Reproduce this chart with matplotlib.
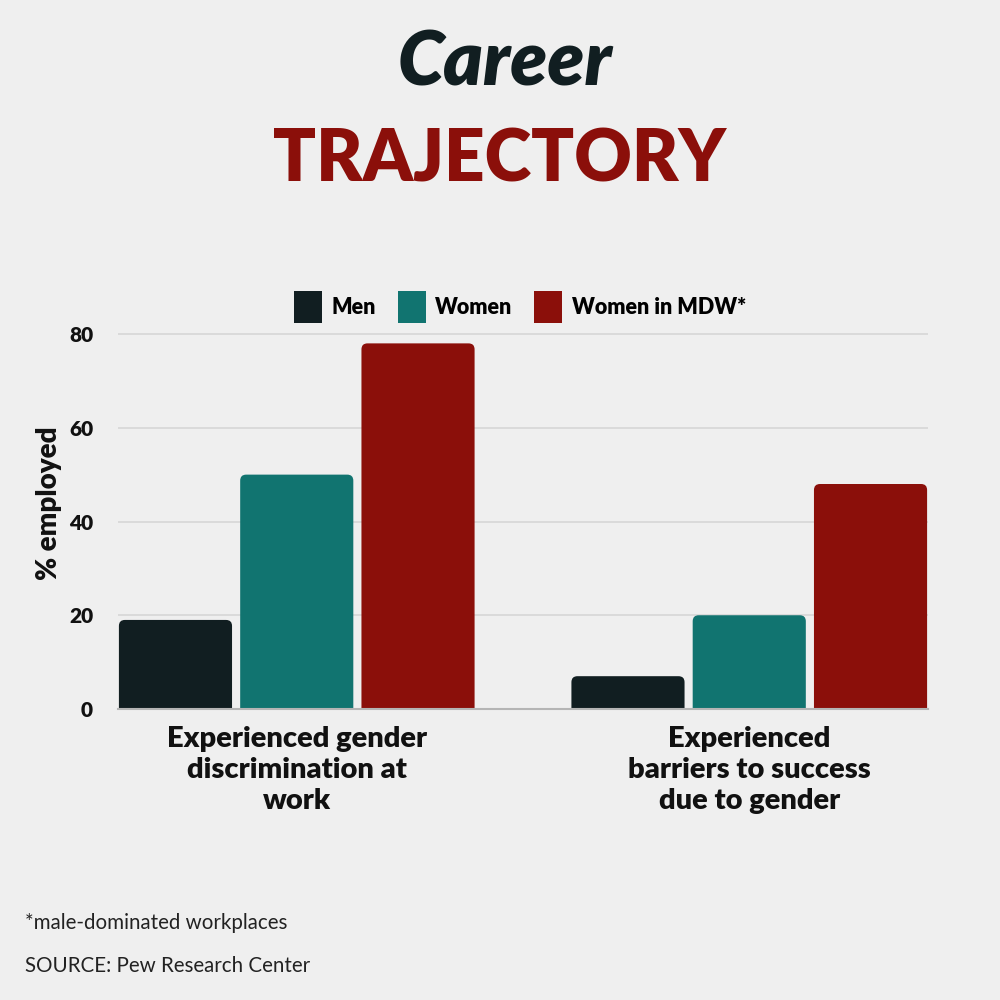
import matplotlib
matplotlib.use("Agg")
import matplotlib.pyplot as plt
from matplotlib.patches import FancyBboxPatch, Patch
import numpy as np

# data
categories = ["Experienced gender\ndiscrimination at\nwork",
              "Experienced\nbarriers to success\ndue to gender"]
series_names = ["Men", "Women", "Women in MDW*"]
men = [19, 7]
women = [50, 20]
women_mdw = [78, 48]
colors = ["#111e21", "#117470", "#8b0f0a"]
bg = "#efefef"

plt.rcParams['font.family'] = ['Lato', 'DejaVu Sans']

fig = plt.figure(figsize=(10, 10), dpi=100, facecolor=bg)
ax = fig.add_axes([0.118, 0.291, 0.81, 0.4125])
ax.set_facecolor(bg)

x = np.arange(len(categories))
width = 0.25
step = 0.268
px_per_x = 452.0
px_per_y = 4.6875
r_px = 6

for i, (vals, c, name) in enumerate(zip([men, women, women_mdw], colors, series_names)):
    bars = ax.bar(x + (i - 1) * step, vals, width, color=c, zorder=3)
    # swap plain bars for ones with rounded tops
    for b in bars:
        b.set_visible(False)
        r = r_px / px_per_x
        p = FancyBboxPatch((b.get_x(), -5), b.get_width(), b.get_height() + 5,
                           boxstyle=f"round,pad=0,rounding_size={r}",
                           mutation_aspect=px_per_x / px_per_y,
                           facecolor=c, edgecolor="none", zorder=3)
        ax.add_patch(p)

ax.set_xlim(-0.395, 1.395)
ax.set_ylim(0, 88)
ax.set_yticks([0, 20, 40, 60, 80])
ax.yaxis.grid(True, color="#d6d6d6", linewidth=1.2, zorder=0)
ax.set_axisbelow(True)
for s in ["top", "right", "left"]:
    ax.spines[s].set_visible(False)
ax.spines["bottom"].set_color("#b5b5b5")
ax.spines["bottom"].set_linewidth(1.5)
ax.spines["bottom"].set_zorder(4)
ax.tick_params(axis="both", length=0)
ax.tick_params(axis="y", pad=18)
for t in ax.get_yticklabels():
    t.set_fontsize(15)
    t.set_fontweight("heavy")
    t.set_color("#111111")
ax.set_xticks(x)
ax.set_xticklabels(categories, fontsize=21, fontweight="heavy", color="#111111",
                   linespacing=1.25)
ax.tick_params(axis="x", pad=12)
ax.set_ylabel("% employed", fontsize=20, fontweight="heavy", color="#111111", labelpad=5)

handles = [Patch(facecolor=c, edgecolor="none", label=n) for c, n in zip(colors, series_names)]
fig.legend(handles=handles, loc="center", bbox_to_anchor=(0.52, 0.693), ncol=3,
           frameon=False, prop={"size": 15.5, "weight": "heavy"}, handlelength=1.3,
           handleheight=1.9, columnspacing=1.0, handletextpad=0.45)

fig.text(0.505, 0.937, "Career", ha="center", va="center", fontsize=54,
         fontweight="heavy", fontstyle="italic", color="#111e21")
fig.text(0.5, 0.84, "TRAJECTORY", ha="center", va="center", fontsize=51,
         fontweight="heavy", color="#8b0f0a")

fig.text(0.025, 0.077, "*male-dominated workplaces", ha="left", va="center",
         fontsize=14.8, color="#222222")
fig.text(0.025, 0.034, "SOURCE: Pew Research Center", ha="left", va="center",
         fontsize=14.8, color="#222222")

fig.savefig("out.png", dpi=100, facecolor=bg)
